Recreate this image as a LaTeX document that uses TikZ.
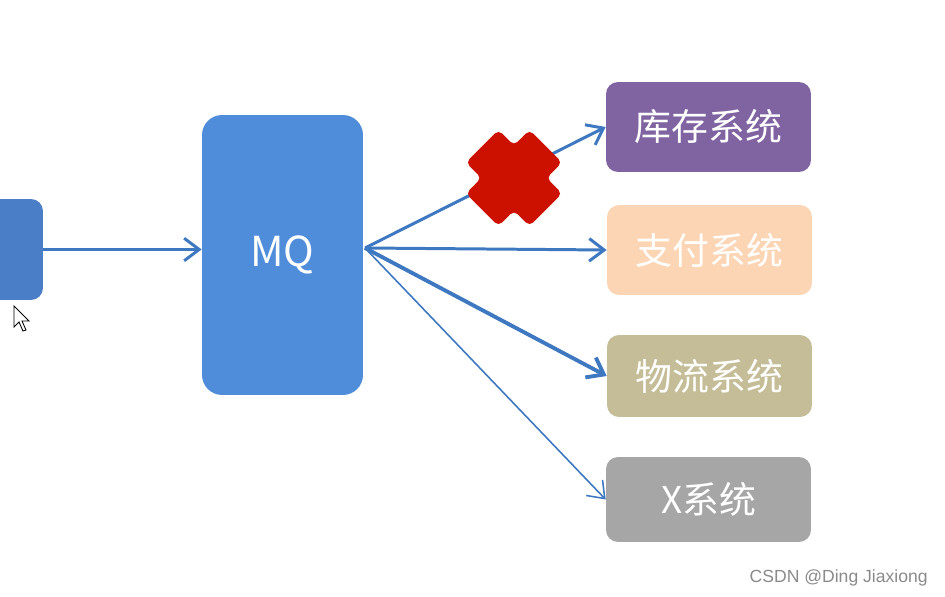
\documentclass[tikz,border=0pt]{standalone}
\usepackage{fontspec}
\setmainfont{Liberation Sans}
\newfontfamily\cjk{Noto Sans CJK SC}
\usetikzlibrary{arrows.meta}

\definecolor{leftblue}{HTML}{4A7EC7}
\definecolor{mqblue}{HTML}{4F8DDB}
\definecolor{arrowblue}{HTML}{3D78C0}
\definecolor{kcpurple}{HTML}{8064A2}
\definecolor{zfpeach}{HTML}{FCD5B4}
\definecolor{wlkhaki}{HTML}{C4BD97}
\definecolor{xsgray}{HTML}{A6A6A6}
\definecolor{crossred}{HTML}{CC1100}
\definecolor{markgray}{HTML}{8A8A8A}

\tikzset{
  sysbox/.style={rounded corners=0.24cm, minimum width=4.1cm, minimum height=1.8cm,
    text=white, font=\cjk\fontsize{21}{25}\selectfont},
  flow/.style={draw=arrowblue, line width=1.7pt,
    -{Straight Barb[length=0.3cm,width=0.45cm]}}
}

\begin{document}
\begin{tikzpicture}[x=0.02cm,y=-0.02cm]

\useasboundingbox (0,0) rectangle (945,597);
\clip (0,0) rectangle (945,597);

% sender, cut off at the left edge
\node[fill=leftblue, rounded corners=0.24cm, minimum width=2.4cm, minimum height=2.02cm] (src) at (-17,249.5) {};

% queue
\node[fill=mqblue, rounded corners=0.4cm, minimum width=3.22cm, minimum height=5.6cm,
  text=white, font=\cjk\fontsize{23.5}{27}\selectfont] (mq) at (282.5,255) {MQ};
\coordinate (hub) at (365,248);

% consumers
\node[sysbox, fill=kcpurple] (kc) at (708.5,127) {库存系统};
\node[sysbox, fill=zfpeach] (zf) at (709.5,250) {支付系统};
\node[sysbox, fill=wlkhaki, minimum height=1.64cm] (wl) at (709.5,376) {物流系统};
\node[sysbox, fill=xsgray, minimum height=1.7cm] (xs) at (708.5,499.5) {X系统};

% send
\draw[flow] (src) -- (src -| mq.west);

% fan out
\draw[flow] (hub) -- (kc.west);
\draw[flow] (hub) -- (zf.west);
\draw[flow, line width=2.2pt] (hub) -- (wl.west);
\draw[flow, line width=0.9pt] (hub) -- (xs.west);

% failed call
\begin{scope}[shift={(514,178)}, rotate=45]
  \fill[crossred, rounded corners=0.1cm] (23,45) -- (23,23) -- (45,23) -- (45,-23)
    -- (23,-23) -- (23,-45) -- (-23,-45) -- (-23,-23) -- (-45,-23) -- (-45,23)
    -- (-23,23) -- (-23,45) -- cycle;
\end{scope}

% mouse pointer
\filldraw[fill=white, draw=black, line width=0.5pt] (14,306) -- (14,327) -- (19,322)
  -- (23,331) -- (26,330) -- (22,321) -- (29,321) -- cycle;

% watermark
\node[anchor=east, inner sep=0pt, text=markgray, font=\fontsize{10}{12}\selectfont] (mark) at (928,578) {CSDN @Ding Jiaxiong};

\end{tikzpicture}
\end{document}
